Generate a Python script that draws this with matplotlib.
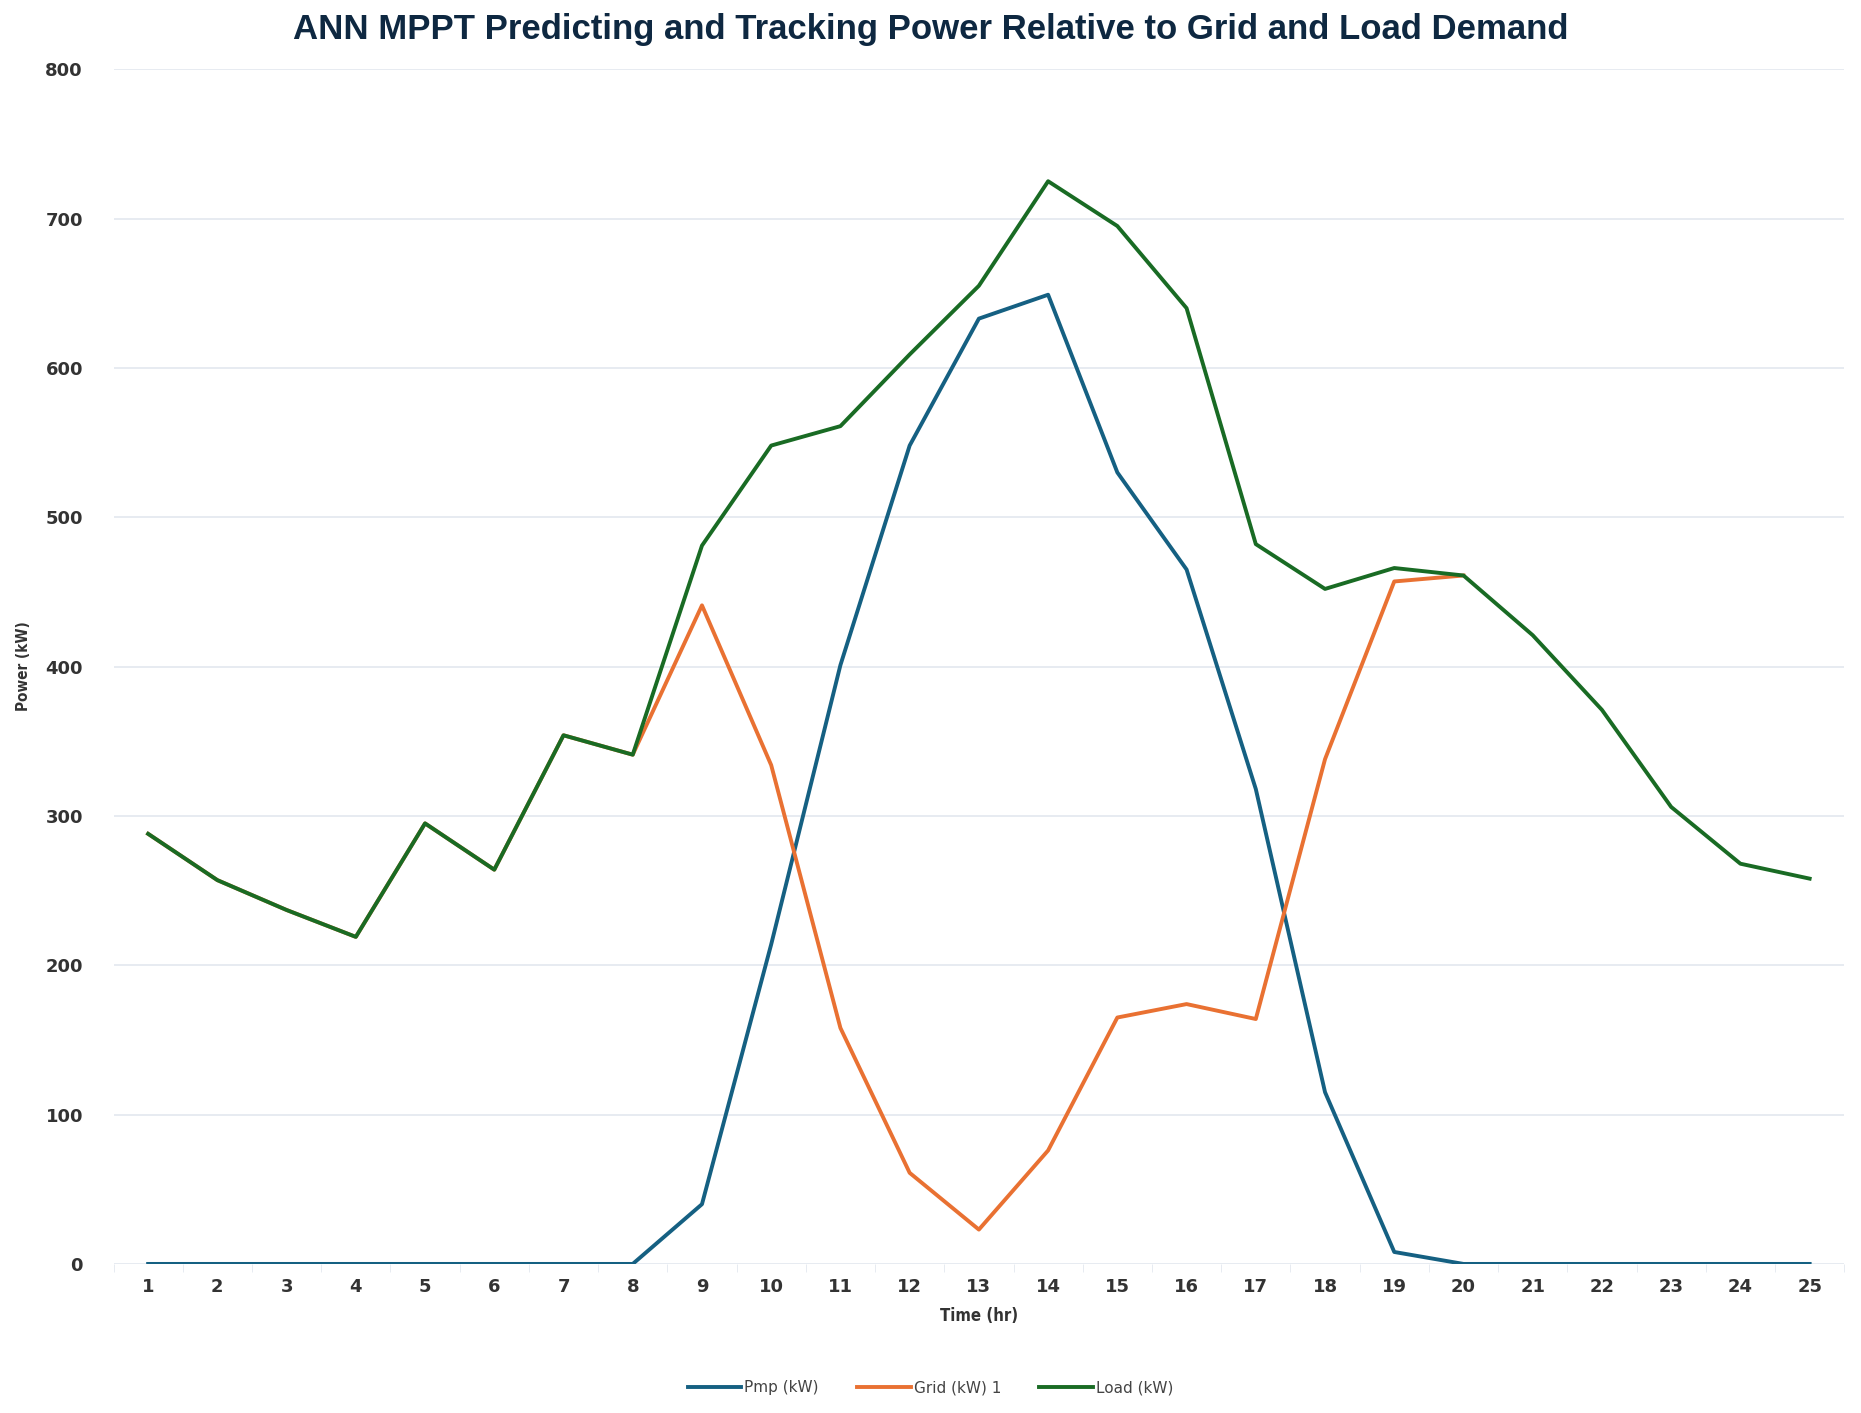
import matplotlib
matplotlib.use("Agg")
from matplotlib import pyplot as plt
from matplotlib.ticker import MultipleLocator

# hours and the three series (kW)
hours = list(range(1, 26))
pmp = [0, 0, 0, 0, 0, 0, 0, 0, 40, 214, 401, 548, 633, 649, 530,
       465, 318, 115, 8, 0, 0, 0, 0, 0, 0]
grid = [288, 257, 237, 219, 295, 264, 354, 341, 441, 334, 158, 61, 23, 76, 165,
        174, 164, 338, 457, 461]
load = [288, 257, 237, 219, 295, 264, 354, 341, 481, 548, 561, 609, 655, 725, 695,
        640, 482, 452, 466, 461, 421, 371, 306, 268, 258]

fig = plt.figure(figsize=(18.61, 14.13), dpi=100)
ax = fig.add_axes([0.061, 0.1055, 0.93, 0.8455])

ax.plot(hours, pmp, color="#156082", lw=2.8, label="Pmp (kW)")
ax.plot(hours[:len(grid)], grid, color="#E97132", lw=2.8, label="Grid (kW) 1")
ax.plot(hours, load, color="#196B24", lw=2.8, label="Load (kW)")

ax.set_xlim(0.5, 25.5)
ax.set_ylim(0, 800)
ax.set_xticks(hours)
ax.xaxis.set_minor_locator(MultipleLocator(1, offset=0.5))
ax.yaxis.set_major_locator(MultipleLocator(100))
ax.grid(axis="y", color="#E3E8EF", lw=1.2)
ax.set_axisbelow(True)
for s in ax.spines.values():
    s.set_visible(False)
ax.tick_params(axis="y", length=0, pad=22, labelsize=13, labelcolor="#333333")
ax.tick_params(axis="x", which="major", length=0, pad=10, labelsize=13, labelcolor="#333333")
ax.tick_params(axis="x", which="minor", length=6, color="#E3E8EF")
for t in ax.get_yticklabels() + ax.get_xticklabels():
    t.set_fontweight("bold")

ax.set_xlabel("Time (hr)", fontsize=12, fontweight="bold", color="#333333",
              fontstretch="condensed", labelpad=8)
ax.set_ylabel("Power (kW)", fontsize=11, fontweight="bold", color="#333333",
              fontstretch="condensed", labelpad=10)

fig.text(0.5, 0.979, "ANN MPPT Predicting and Tracking Power Relative to Grid and Load Demand",
         ha="center", va="center", fontsize=25, fontweight="bold", color="#0E2841",
         family="Liberation Sans")

fig.legend(loc="center", bbox_to_anchor=(0.5, 0.018), ncol=3, frameon=False,
           fontsize=11, handlelength=3.5, handletextpad=0.2, columnspacing=2.5,
           labelcolor="#444444")

fig.savefig("out.png", dpi=100)
